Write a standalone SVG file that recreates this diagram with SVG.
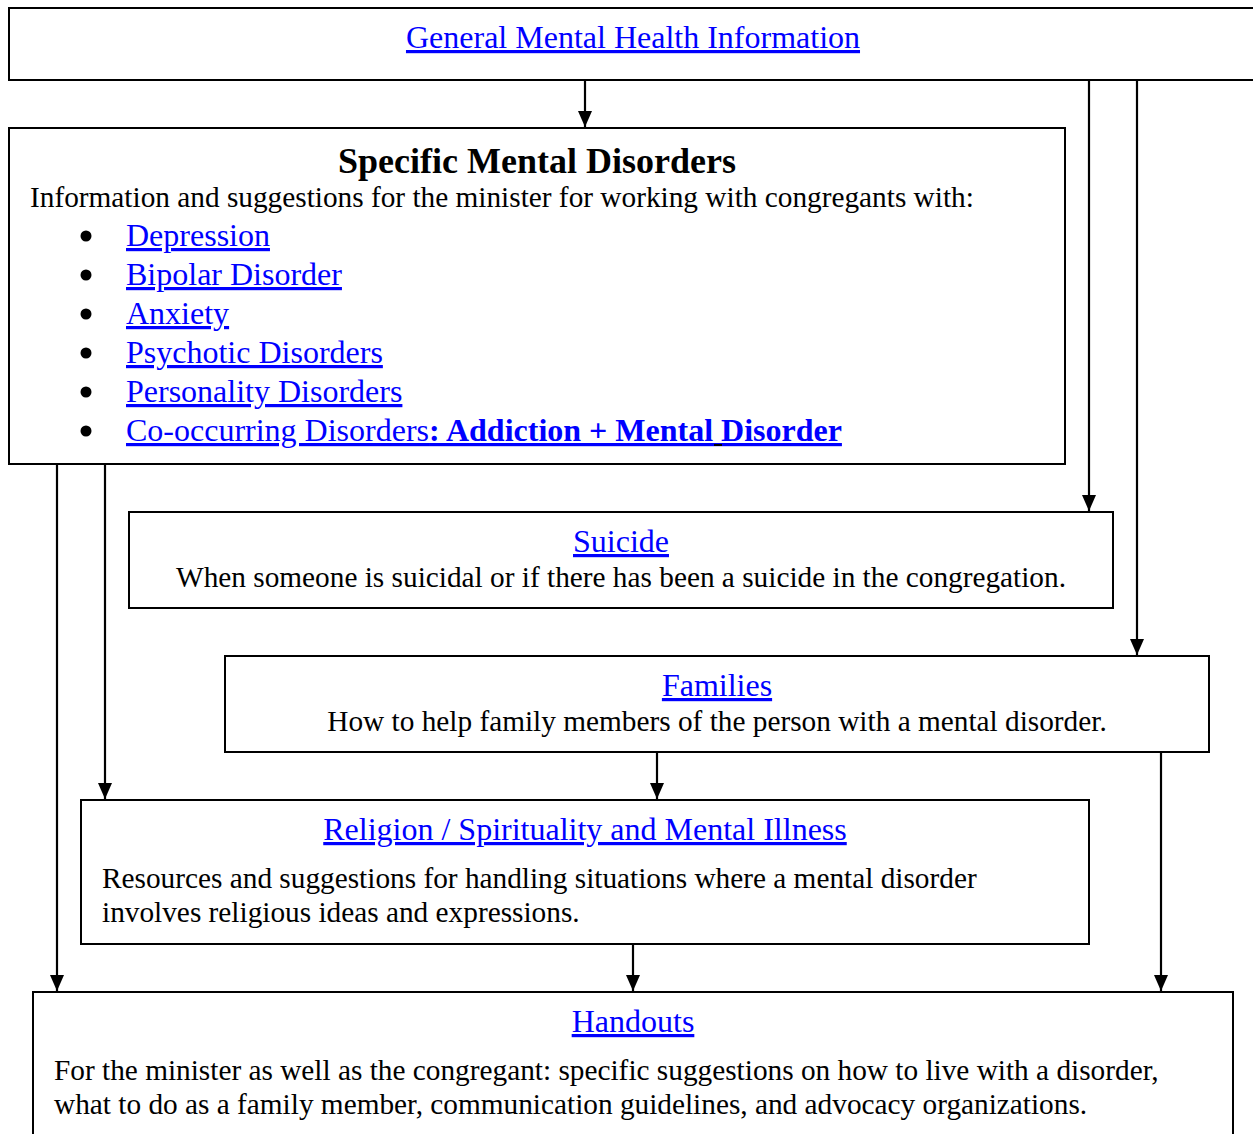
<svg xmlns="http://www.w3.org/2000/svg" width="1253" height="1134" viewBox="0 0 1253 1134">
<style>
.box{fill:#fff;stroke:#000;stroke-width:2}
.ln{stroke:#000;stroke-width:2.2;fill:none}
text{font-family:"Liberation Serif","Times New Roman",serif;font-size:29.3px;fill:#000}
.lk{fill:#0000ff;text-decoration:underline;font-size:32px}
.b{font-weight:bold}
.mid{text-anchor:middle}
</style>
<defs>
<marker id="ah" markerUnits="userSpaceOnUse" markerWidth="16" markerHeight="14" refX="16" refY="7" orient="auto" viewBox="0 0 16 14">
<path d="M0,0 L16,7 L0,14 Z" fill="#000"/>
</marker>
</defs>
<rect width="1253" height="1134" fill="#fff"/>
<g id="connectors">
<line class="ln" x1="585" y1="80" x2="585" y2="127" marker-end="url(#ah)"/>
<line class="ln" x1="1089" y1="80" x2="1089" y2="511" marker-end="url(#ah)"/>
<line class="ln" x1="1137" y1="80" x2="1137" y2="655" marker-end="url(#ah)"/>
<line class="ln" x1="57" y1="464" x2="57" y2="991" marker-end="url(#ah)"/>
<line class="ln" x1="105" y1="464" x2="105" y2="799" marker-end="url(#ah)"/>
<line class="ln" x1="657" y1="752" x2="657" y2="799" marker-end="url(#ah)"/>
<line class="ln" x1="633" y1="944" x2="633" y2="991" marker-end="url(#ah)"/>
<line class="ln" x1="1161" y1="752" x2="1161" y2="991" marker-end="url(#ah)"/>
</g>
<g id="general">
<rect class="box" x="9" y="8" width="1260" height="72"/>
<text class="lk mid" x="633" y="48">General Mental Health Information</text>
</g>
<g id="specific">
<rect class="box" x="9" y="128" width="1056" height="336"/>
<text class="b mid" x="537" y="173" style="font-size:36px">Specific Mental Disorders</text>
<text x="30" y="207">Information and suggestions for the minister for working with congregants with:</text>
<g fill="#000">
<circle cx="86" cy="236" r="5.5"/>
<circle cx="86" cy="275" r="5.5"/>
<circle cx="86" cy="314" r="5.5"/>
<circle cx="86" cy="353" r="5.5"/>
<circle cx="86" cy="392" r="5.5"/>
<circle cx="86" cy="431" r="5.5"/>
</g>
<text class="lk" x="126" y="246">Depression</text>
<text class="lk" x="126" y="285">Bipolar Disorder</text>
<text class="lk" x="126" y="324">Anxiety</text>
<text class="lk" x="126" y="363">Psychotic Disorders</text>
<text class="lk" x="126" y="402">Personality Disorders</text>
<text class="lk" x="126" y="441">Co-occurring Disorders<tspan class="b">: Addiction + Mental Disorder</tspan></text>
<rect x="714" y="444" width="8" height="2" fill="#000"/>
</g>
<g id="suicide">
<rect class="box" x="129" y="512" width="984" height="96"/>
<text class="lk mid" x="621" y="552">Suicide</text>
<text class="mid" x="621" y="587">When someone is suicidal or if there has been a suicide in the congregation.</text>
</g>
<g id="families">
<rect class="box" x="225" y="656" width="984" height="96"/>
<text class="lk mid" x="717" y="696">Families</text>
<text class="mid" x="717" y="731">How to help family members of the person with a mental disorder.</text>
</g>
<g id="religion">
<rect class="box" x="81" y="800" width="1008" height="144"/>
<text class="lk mid" x="585" y="840">Religion / Spirituality and Mental Illness</text>
<text x="102" y="888">Resources and suggestions for handling situations where a mental disorder</text>
<text x="102" y="922">involves religious ideas and expressions.</text>
</g>
<g id="handouts">
<rect class="box" x="33" y="992" width="1200" height="160"/>
<text class="lk mid" x="633" y="1032">Handouts</text>
<text x="54" y="1080">For the minister as well as the congregant: specific suggestions on how to live with a disorder,</text>
<text x="54" y="1114">what to do as a family member, communication guidelines, and advocacy organizations.</text>
</g>
</svg>
